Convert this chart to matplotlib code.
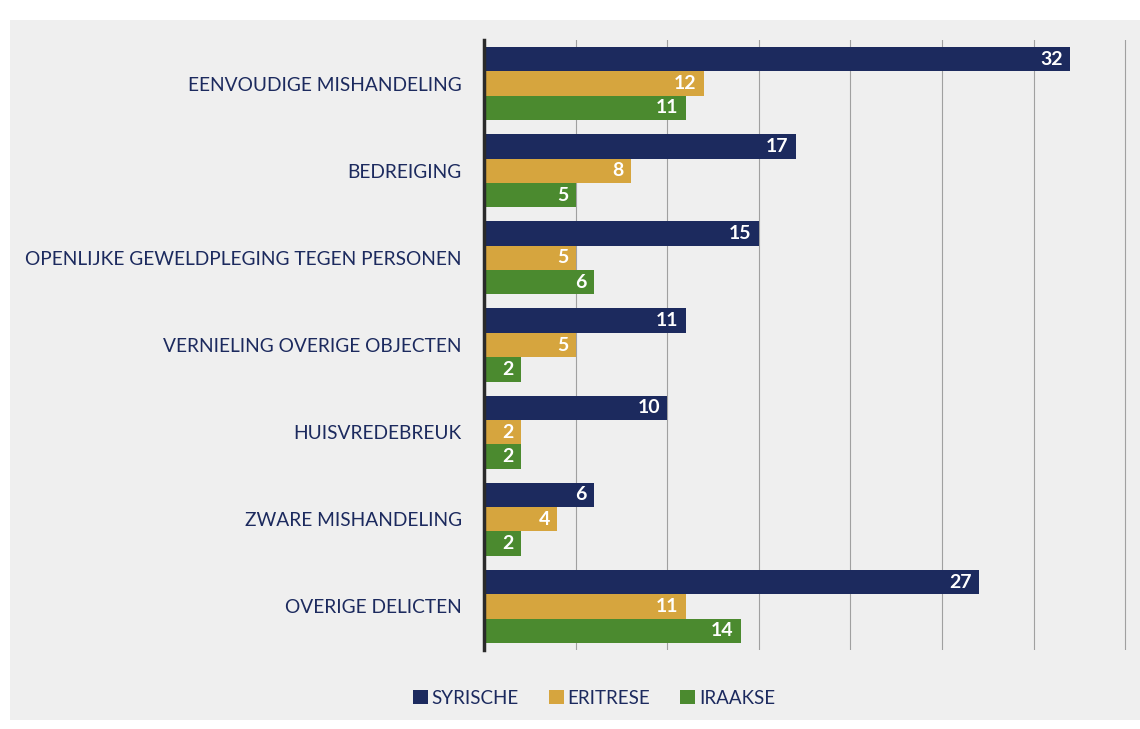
import matplotlib.pyplot as plt
import numpy as np
from matplotlib.patches import Rectangle

categories = ['EENVOUDIGE MISHANDELING', 'BEDREIGING',
              'OPENLIJKE GEWELDPLEGING TEGEN PERSONEN',
              'VERNIELING OVERIGE OBJECTEN', 'HUISVREDEBREUK',
              'ZWARE MISHANDELING', 'OVERIGE DELICTEN']
syrische = [32, 17, 15, 11, 10, 6, 27]
eritrese = [12, 8, 5, 5, 2, 4, 11]
iraakse = [11, 5, 6, 2, 2, 2, 14]
series = ['SYRISCHE', 'ERITRESE', 'IRAAKSE']
colors = ['#1c2a5e', '#d6a53e', '#4b8a2f']

plt.rcParams['font.family'] = ['Lato', 'DejaVu Sans']

fig = plt.figure(figsize=(11.4, 7.29), dpi=100, facecolor='white')
# grey panel behind the chart
fig.patches.append(Rectangle((10 / 1140, 9 / 729), 1130 / 1140, 700 / 729,
                             transform=fig.transFigure, facecolor='#efefef',
                             edgecolor='none', zorder=-5))
ax = fig.add_axes([484 / 1140, 1 - 650 / 729, 1 - 484 / 1140, 610 / 729])
ax.set_facecolor('none')
ax.set_zorder(2)

y = np.arange(len(categories))
h = 0.28
for i, (vals, name, c) in enumerate(zip([syrische, eritrese, iraakse], series, colors)):
    pos = y + (i - 1) * h
    ax.barh(pos, vals, height=h, color=c, label=name, zorder=2)
    for p, v in zip(pos, vals):
        ax.text(v - 0.4, p, str(v), ha='right', va='center', color='white',
                fontsize=14, fontweight='bold', zorder=3)

ax.set_xlim(0, 35.8)
ax.set_ylim(len(categories) - 0.5, -0.5)
ax.set_xticks([5, 10, 15, 20, 25, 30, 35])
ax.xaxis.grid(True, color='#a0a0a0', linewidth=0.8, zorder=1)
ax.set_axisbelow(True)
ax.tick_params(axis='x', length=0, labelbottom=False)
ax.tick_params(axis='y', length=0, pad=16)
ax.set_yticks(y)
ax.set_yticklabels(categories, fontsize=13.8, color='#1c2a5e')
for s in ['top', 'right', 'bottom']:
    ax.spines[s].set_visible(False)
ax.spines['left'].set_color('#2a2a2a')
ax.spines['left'].set_linewidth(2.5)

leg = fig.legend(loc='center', bbox_to_anchor=(594 / 1140, 1 - 698 / 729), ncol=3,
                 frameon=False, fontsize=13.5, handlelength=0.8, handleheight=0.8,
                 handletextpad=0.2, columnspacing=1.6, labelcolor='#1c2a5e')
leg.set_zorder(3)

plt.savefig('out.png', dpi=100, facecolor=fig.get_facecolor())
